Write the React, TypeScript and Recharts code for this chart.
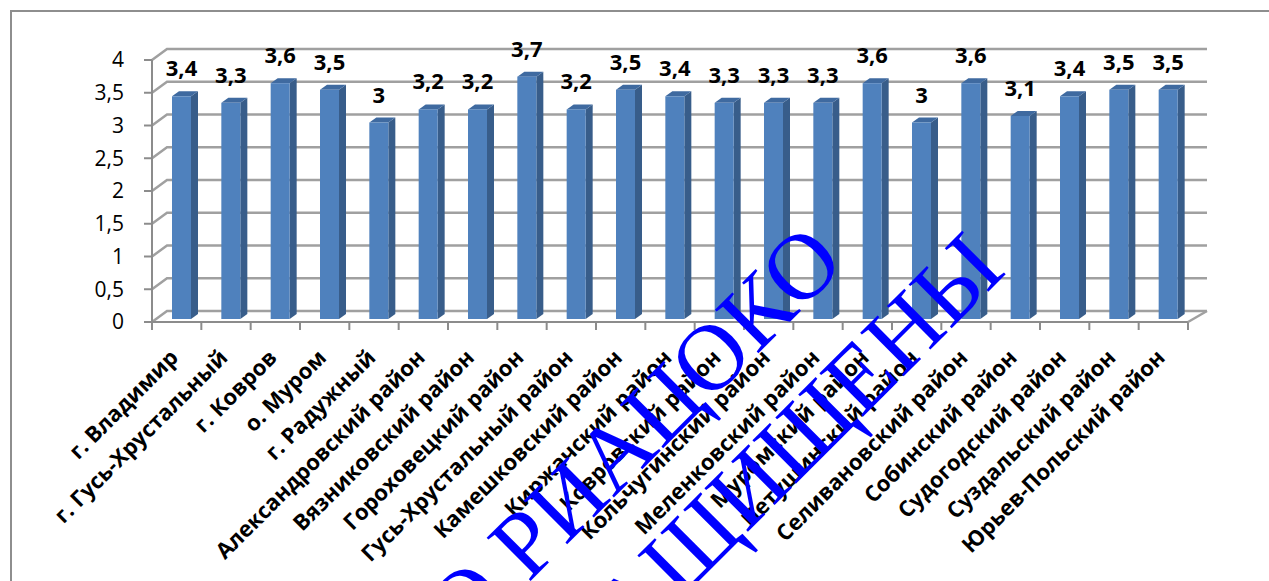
import { Bar, BarChart, CartesianGrid, LabelList, XAxis, YAxis } from "recharts";

const districts = [
  "г. Владимир",
  "г. Гусь-Хрустальный",
  "г. Ковров",
  "о. Муром",
  "г. Радужный",
  "Александровский район",
  "Вязниковский район",
  "Гороховецкий район",
  "Гусь-Хрустальный район",
  "Камешковский район",
  "Киржачский район",
  "Ковровский район",
  "Кольчугинский район",
  "Меленковский район",
  "Муромский район",
  "Петушинский район",
  "Селивановский район",
  "Собинский район",
  "Судогодский район",
  "Суздальский район",
  "Юрьев-Польский район",
];

const scores = [3.4, 3.3, 3.6, 3.5, 3, 3.2, 3.2, 3.7, 3.2, 3.5, 3.4, 3.3, 3.3, 3.3, 3.6, 3, 3.6, 3.1, 3.4, 3.5, 3.5];

const scoreTicks = [0, 0.5, 1, 1.5, 2, 2.5, 3, 3.5, 4];

const watermarkLines = ["О РИАЦОКО", "ЗАЩИЩЕНЫ"];

const data = districts.map((name, i) => ({ name, score: scores[i] }));

const FONT = "'Open Sans', 'Noto Sans', sans-serif";
const AXIS_GREY = "#8c8c8c";
const X_TICK_MARGIN = 37;

// pseudo-3D offsets
const SHIFT_X = 5;
const SHIFT_Y = -3;
const DEPTH_X = 7;
const DEPTH_Y = -5;

const comma = (v: number) => String(v).replace(".", ",");

function Bar3D(props: any) {
  const { x, y, width, height } = props;
  const fx = x + SHIFT_X;
  const fy = y + SHIFT_Y;
  const r = fx + width;
  return (
    <g>
      <polygon
        points={`${r},${fy} ${r + DEPTH_X},${fy + DEPTH_Y} ${r + DEPTH_X},${fy + height + DEPTH_Y} ${r},${fy + height}`}
        fill="#385d8a"
      />
      <polygon
        points={`${fx},${fy} ${fx + DEPTH_X},${fy + DEPTH_Y} ${r + DEPTH_X},${fy + DEPTH_Y} ${r},${fy}`}
        fill="#3f6aa0"
      />
      <rect x={fx} y={fy} width={width} height={height} fill="#4f81bd" />
    </g>
  );
}

function BarValue(props: any) {
  const box = props.viewBox ?? props;
  const { x, y, width } = box;
  return (
    <text
      x={x + SHIFT_X + width / 2}
      y={y + SHIFT_Y - 20}
      textAnchor="middle"
      fontFamily={FONT}
      fontWeight={700}
      fontSize={22}
      fill="#000"
    >
      {comma(props.value)}
    </text>
  );
}

function WallLine(props: any) {
  const { x1, x2, y1 } = props;
  return (
    <polyline
      key={`wall-${y1}`}
      points={`${x1},${y1} ${x1 + 15},${y1 - 11} ${x2 + 19},${y1 - 11}`}
      fill="none"
      stroke="#a0a0a0"
      strokeWidth={2.5}
    />
  );
}

function DistrictTick(props: any) {
  const { x, y, payload, index } = props;
  const half = payload.offset ?? 0;
  const axisY = y - X_TICK_MARGIN;
  const lx = x + 3;
  const isLast = index === districts.length - 1;
  return (
    <g>
      <line x1={x - half} y1={axisY} x2={x - half} y2={axisY + 8} stroke={AXIS_GREY} strokeWidth={2} />
      {isLast && (
        <>
          <line x1={x + half} y1={axisY} x2={x + half} y2={axisY + 8} stroke={AXIS_GREY} strokeWidth={2} />
          <line x1={x + half} y1={axisY} x2={x + half + 19} y2={axisY - 11} stroke="#a0a0a0" strokeWidth={2.5} />
        </>
      )}
      <text
        x={lx}
        y={y}
        transform={`rotate(-45 ${lx} ${y})`}
        textAnchor="end"
        fontFamily={FONT}
        fontWeight={700}
        fontSize={22}
        fill="#000"
      >
        {payload.value}
      </text>
    </g>
  );
}

export default function App() {
  return (
    <div
      style={{
        position: "absolute",
        left: 0,
        top: 0,
        width: 1269,
        height: 581,
        background: "#fff",
        overflow: "hidden",
        fontFamily: FONT,
      }}
    >
      <div
        style={{
          position: "absolute",
          left: 10,
          top: 10,
          width: 1269,
          height: 581,
          borderLeft: "2px solid #8e8e8e",
          borderTop: "2px solid #8e8e8e",
        }}
      />
      <div style={{ position: "absolute", left: 0, top: 0 }}>
        <BarChart width={1269} height={581} data={data} margin={{ top: 60, right: 81, left: 0, bottom: 0 }}>
          <CartesianGrid vertical={false} horizontal={WallLine} />
          <XAxis
            dataKey="name"
            interval={0}
            height={259}
            tickSize={0}
            tickMargin={X_TICK_MARGIN}
            tickLine={false}
            axisLine={{ stroke: AXIS_GREY, strokeWidth: 2 }}
            tick={<DistrictTick />}
          />
          <YAxis
            width={152}
            domain={[0, 4]}
            ticks={scoreTicks}
            interval={0}
            tickSize={8}
            tickMargin={20}
            tickFormatter={comma}
            axisLine={{ stroke: AXIS_GREY, strokeWidth: 2 }}
            tickLine={{ stroke: AXIS_GREY, strokeWidth: 2 }}
            tick={{ fill: "#000", fontSize: 21, fontFamily: FONT }}
          />
          <Bar dataKey="score" barSize={19} shape={<Bar3D />} isAnimationActive={false}>
            <LabelList dataKey="score" content={BarValue} />
          </Bar>
        </BarChart>
      </div>
      <svg
        width={1269}
        height={581}
        style={{ position: "absolute", left: 0, top: 0, pointerEvents: "none" }}
      >
        <g transform="rotate(-45)" fontFamily="'Liberation Serif', 'Times New Roman', serif" fontSize={94} fill="#0000ff">
          <text x={412} y={786} textAnchor="end">
            {watermarkLines[0]}
          </text>
          <text x={520} y={905} textAnchor="end">
            {watermarkLines[1]}
          </text>
        </g>
      </svg>
    </div>
  );
}
